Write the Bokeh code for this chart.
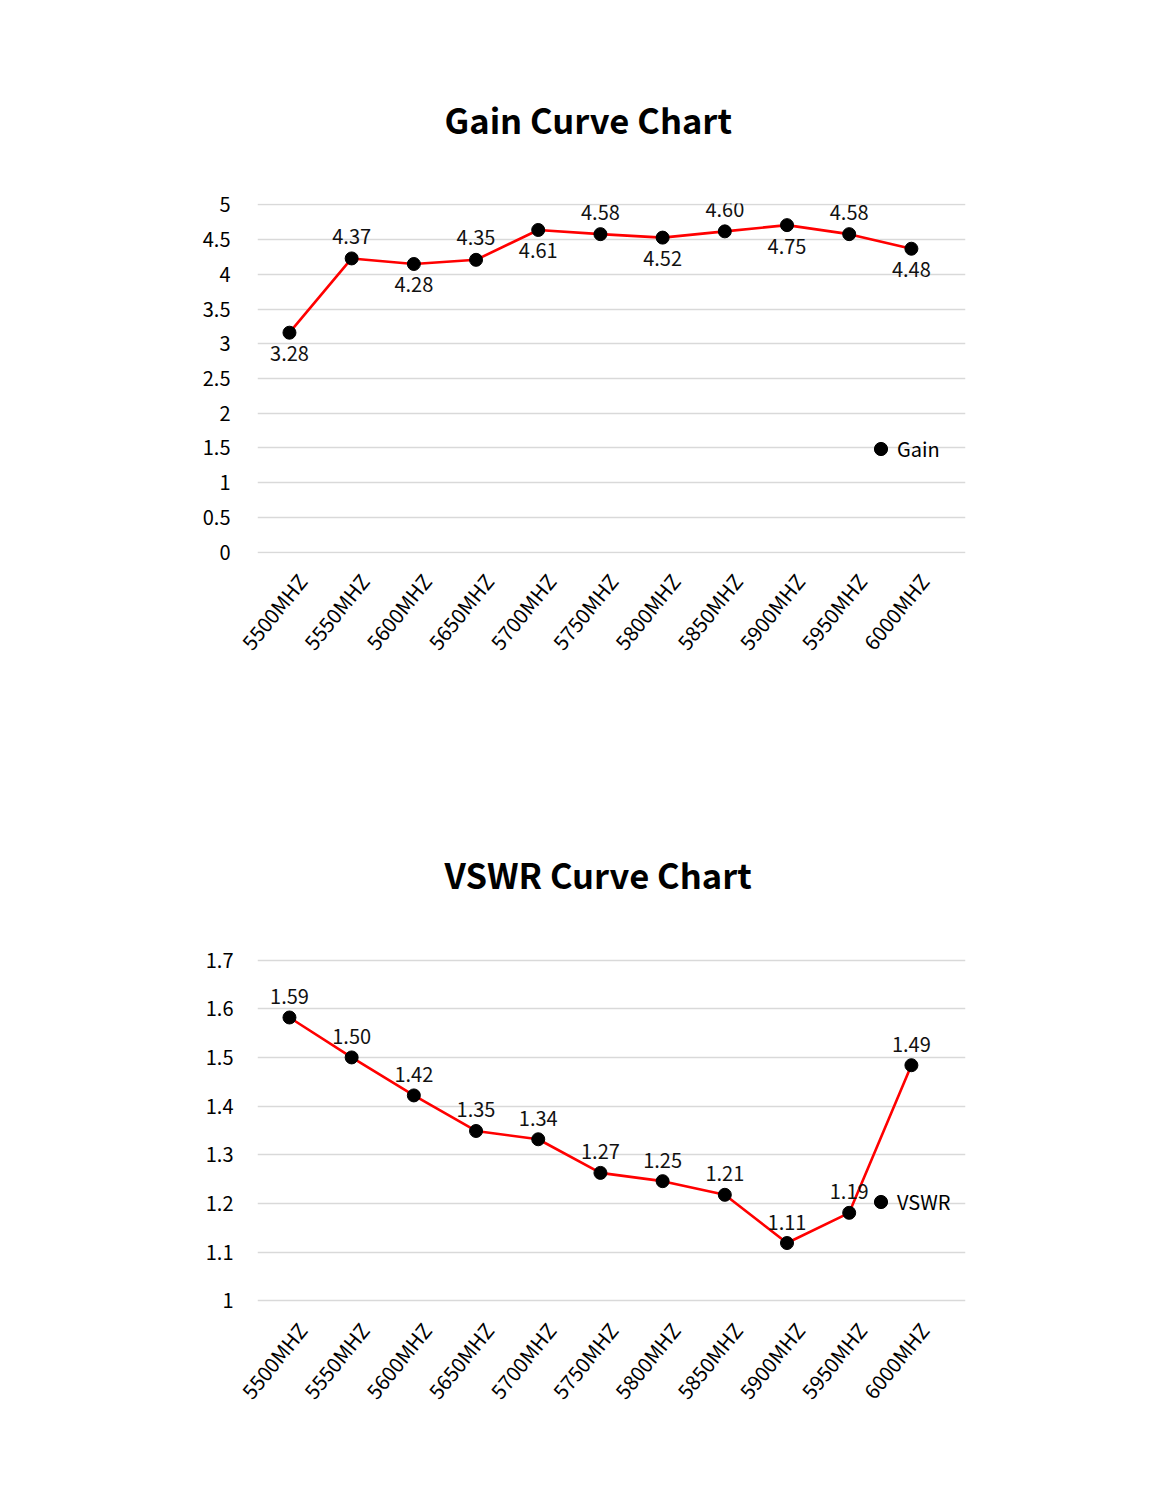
import math
from bokeh.plotting import figure
from bokeh.layouts import column
from bokeh.models import (Range1d, FixedTicker, NumeralTickFormatter, Legend, LegendItem,
                          ColumnDataSource, CustomJSTickFormatter)
from bokeh.core.properties import value
from bokeh.embed import file_html
from bokeh.resources import INLINE

# ---- data ----
freqs = ["5500MHZ", "5550MHZ", "5600MHZ", "5650MHZ", "5700MHZ", "5750MHZ",
         "5800MHZ", "5850MHZ", "5900MHZ", "5950MHZ", "6000MHZ"]
gain_values = [3.16, 4.23, 4.15, 4.21, 4.64, 4.58, 4.53, 4.62, 4.71, 4.58, 4.37]
gain_labels = ["3.28", "4.37", "4.28", "4.35", "4.61", "4.58", "4.52", "4.60", "4.75", "4.58", "4.48"]
vswr_values = [1.582, 1.50, 1.422, 1.349, 1.332, 1.263, 1.246, 1.218, 1.119, 1.181, 1.484]
vswr_labels = ["1.59", "1.50", "1.42", "1.35", "1.34", "1.27", "1.25", "1.21", "1.11", "1.19", "1.49"]
gain_ticks = [0, 0.5, 1, 1.5, 2, 2.5, 3, 3.5, 4, 4.5, 5]
vswr_ticks = [1, 1.1, 1.2, 1.3, 1.4, 1.5, 1.6, 1.7]

FONT = "Noto Sans CJK SC"
W = 1159
LABEL_SHIFT = 0.2


def make_chart(title, name, vals, labels, ticks, yr, height, top, bottom, label_offsets,
               legend_y, ylabel_standoff):
    idx = list(range(len(freqs)))
    p = figure(width=W, height=height, output_backend="svg", toolbar_location=None,
               x_range=Range1d(-0.514, 10.87), y_range=Range1d(*yr),
               min_border_left=257, min_border_right=194,
               min_border_top=top, min_border_bottom=bottom)
    p.outline_line_color = None
    p.background_fill_color = "white"
    p.border_fill_color = "white"

    p.title.text = title
    p.title.text_font = FONT
    p.title.text_font_size = "34.5px"
    p.title.text_font_style = "bold"
    p.title.text_color = "black"
    p.title.align = "left"
    p.title.offset = 187
    p.title.standoff = 120

    # axes
    p.xaxis.ticker = FixedTicker(ticks=[i + LABEL_SHIFT for i in idx])
    p.xaxis.formatter = CustomJSTickFormatter(args=dict(labels=freqs),
                                              code="return labels[Math.round(tick - 0.2)];")
    p.xaxis.major_label_orientation = 0.89
    p.xaxis.axis_line_color = None
    p.xaxis.major_tick_line_color = None
    p.xaxis.minor_tick_line_color = None
    p.xaxis.major_label_text_font = FONT
    p.xaxis.major_label_text_font_size = "20.5px"
    p.xaxis.major_label_text_color = "black"
    p.xaxis.major_label_standoff = 17

    p.yaxis.ticker = FixedTicker(ticks=ticks)
    p.yaxis.formatter = NumeralTickFormatter(format="0.[0]")
    p.yaxis.axis_line_color = None
    p.yaxis.major_tick_line_color = None
    p.yaxis.minor_tick_line_color = None
    p.yaxis.major_label_text_font = FONT
    p.yaxis.major_label_text_font_size = "20px"
    p.yaxis.major_label_text_color = "black"
    p.yaxis.major_label_standoff = ylabel_standoff

    p.xgrid.grid_line_color = None
    p.ygrid.ticker = FixedTicker(ticks=ticks)
    p.ygrid.grid_line_color = "#d9d9d9"
    p.ygrid.grid_line_width = 1.7

    src = ColumnDataSource(dict(x=idx, y=vals, t=labels, off=label_offsets))
    p.line("x", "y", source=src, line_color="#ff0000", line_width=2.6)
    sc = p.scatter("x", "y", source=src, size=13, fill_color="black", line_color="black")
    p.text("x", "y", text="t", source=src, y_offset="off", text_align="center",
           text_baseline="middle", text_font=value(FONT), text_font_size="20px",
           text_color="#111111")

    leg = Legend(items=[LegendItem(label=name, renderers=[sc])], location=(607, legend_y))
    leg.background_fill_alpha = 0
    leg.border_line_color = None
    leg.padding = 0
    leg.margin = 0
    leg.spacing = 0
    leg.glyph_width = 33
    leg.glyph_height = 33
    leg.label_height = 33
    leg.label_standoff = 0
    leg.label_text_font = FONT
    leg.label_text_font_size = "20px"
    leg.label_text_color = "black"
    p.add_layout(leg, "center")
    return p


gain_off = [21 if i % 2 == 0 else -22 for i in range(len(freqs))]
vswr_off = [-21] * len(freqs)

p1 = make_chart("Gain Curve Chart", "Gain", gain_values, gain_labels, gain_ticks,
                (-0.0216, 5.0216), 760, 203, 207, gain_off, 88, 21)
p2 = make_chart("VSWR Curve Chart", "VSWR", vswr_values, vswr_labels, vswr_ticks,
                (0.9969, 1.7031), 736, 198, 194, vswr_off, 84, 18)

layout = column(p1, p2, spacing=0)
open("out.html", "w").write(file_html(layout, INLINE))
